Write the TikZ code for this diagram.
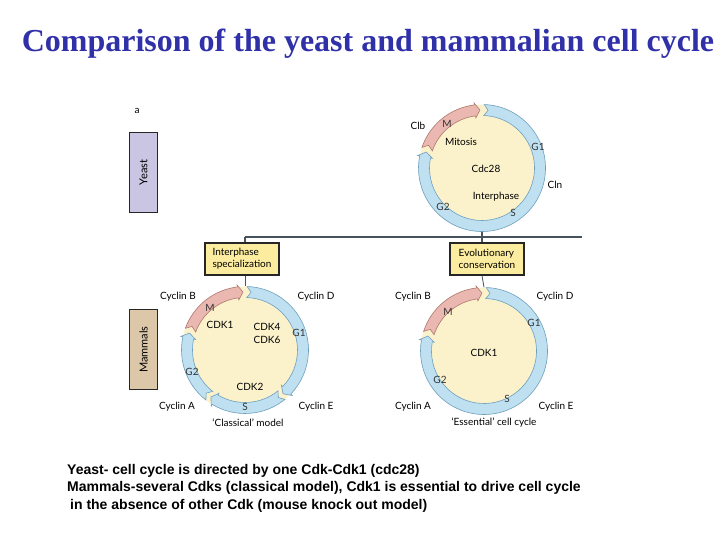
\documentclass[tikz,border=0pt]{standalone}
\usepackage{fontspec}
\setmainfont{Liberation Serif}
\newfontfamily\figfont{Lato}
\newfontfamily\notefont{Liberation Sans}
\usetikzlibrary{positioning}

\definecolor{titleblue}{RGB}{48,48,168}
\definecolor{ringblue}{RGB}{190,224,240}
\definecolor{ringblueedge}{RGB}{110,160,190}
\definecolor{ringpink}{RGB}{234,184,177}
\definecolor{ringpinkedge}{RGB}{176,120,112}
\definecolor{cellfill}{RGB}{251,242,204}
\definecolor{boxfill}{RGB}{251,236,160}
\definecolor{yeastfill}{RGB}{201,197,226}
\definecolor{mammalfill}{RGB}{220,199,169}
\definecolor{linkgray}{RGB}{70,82,92}

% ring radii (centre line, outer, inner, barbs)
\newcommand{\rc}{58}
\newcommand{\ro}{63.5}
\newcommand{\ri}{52.5}
\newcommand{\rob}{65.5}
\newcommand{\rib}{50.5}

% one phase of the cycle, clockwise, arrow tip at the end
\newcommand{\phasearc}[5]{%
  \pgfmathsetmacro{\tipa}{#3-5}%
  \pgfmathsetmacro{\notcha}{#2+4}%
  \filldraw[fill=#4, draw=#5, line width=0.6pt, shift={(#1)}]
    (#2:\ro) arc[start angle=#2, end angle=\tipa, radius=\ro]
    -- (\tipa:\rob) -- (#3:\rc) -- (\tipa:\rib) -- (\tipa:\ri)
    arc[start angle=\tipa, end angle=#2, radius=\ri]
    -- (\notcha:\rc) -- cycle;}

\tikzset{
  cell/.style={circle, fill=cellfill, minimum size=127pt, inner sep=0pt},
  lab/.style={font=\figfont\fontsize{10}{13}\selectfont, inner sep=0pt},
  phase/.style={font=\figfont\fontsize{10}{10}\selectfont, inner sep=0pt, text=black!80},
  infobox/.style={draw=black!85, line width=1.2pt, fill=boxfill, align=left,
    minimum width=74pt, minimum height=32pt, inner sep=2pt,
    font=\figfont\fontsize{10}{12}\selectfont},
  sidebox/.style={draw=black!85, line width=1.5pt, rotate=90,
    minimum width=80pt, minimum height=28pt, font=\figfont\fontsize{11}{11}\selectfont},
  link/.style={draw=linkgray, line width=1.4pt}
}

\begin{document}
\begin{tikzpicture}[x=1pt, y=-1pt]
    \useasboundingbox (0,0) rectangle (720,540);

    % title
    \node[anchor=base, text=titleblue, font=\bfseries\fontsize{32}{34}\selectfont]
        (title) at (368,52) {Comparison of the yeast and mammalian cell cycle};

    % side labels
    \node[lab] (a) at (137,111) {a};
    \node[sidebox, fill=yeastfill] (yeast)   at (143.5,172.5) {Yeast};
    \node[sidebox, fill=mammalfill] (mammals) at (143.5,349.5) {Mammals};

    % cells
    \node[cell] (ycell) at (482,168) {};
    \node[cell] (ccell) at (245,350) {};
    \node[cell] (ecell) at (484,351) {};

    % links
    \node[infobox] (spec) at (242,259) {Interphase\\specialization};
    \node[infobox] (cons) at (487,259) {Evolutionary\\conservation};
    \coordinate (hl) at (245,237);
    \coordinate (hr) at (582,237);
    \draw[link] (hl) -- (hr);
    \draw[link] (hl) -- (hl |- spec.north);
    \draw[link] (ycell.south) -- (ycell.south |- cons.north);
    \draw[link, line width=0.8pt] (spec.south -| hl) -- (ccell.north);
    \draw[link, line width=0.8pt] (cons.south -| ycell.south) -- (ecell.north);

    % yeast cycle
    \phasearc{ycell}{199}{268}{ringpink}{ringpinkedge}
    \phasearc{ycell}{272}{556}{ringblue}{ringblueedge}
    % classical model
    \phasearc{ccell}{200}{268}{ringpink}{ringpinkedge}
    \phasearc{ccell}{272}{409}{ringblue}{ringblueedge}
    \phasearc{ccell}{51}{126}{ringblue}{ringblueedge}
    \phasearc{ccell}{128}{197}{ringblue}{ringblueedge}
    % essential cell cycle
    \phasearc{ecell}{198}{268}{ringpink}{ringpinkedge}
    \phasearc{ecell}{272}{555}{ringblue}{ringblueedge}

    % yeast labels
    \node[lab]   (clb)    at (418,126) {Clb};
    \node[phase] (ym)     at (447,124) {M};
    \node[lab]   (mitos)  at (461,142) {Mitosis};
    \node[lab]   (cdc)    at (486,169) {Cdc28};
    \node[phase] (yg1)    at (538,147) {G1};
    \node[lab]   (cln)    at (555,185) {Cln};
    \node[lab]   (inter)  at (496,197) {Interphase};
    \node[phase] (ys)     at (513,213) {S};
    \node[phase] (yg2)    at (443,207) {G2};

    % classical labels
    \node[lab]   (cb1)    at (178,297) {Cyclin B};
    \node[lab]   (cd1)    at (316,297) {Cyclin D};
    \node[phase] (cm)     at (210,308) {M};
    \node[lab]   (ck1)    at (220,325) {CDK1};
    \node[lab, align=center] (ck46) at (267,333) {CDK4\\CDK6};
    \node[phase] (cg1)    at (299,333) {G1};
    \node[phase] (cg2)    at (192,372) {G2};
    \node[lab]   (ck2)    at (250,387) {CDK2};
    \node[lab]   (ca1)    at (177,407) {Cyclin A};
    \node[phase] (cs)     at (245,407) {S};
    \node[lab]   (ce1)    at (316,407) {Cyclin E};
    \node[lab]   (cmod)   at (248,423) {‘Classical’ model};

    % essential labels
    \node[lab]   (cb2)    at (413,297) {Cyclin B};
    \node[lab]   (cd2)    at (555,297) {Cyclin D};
    \node[phase] (em)     at (448,312) {M};
    \node[phase] (eg1)    at (534,323) {G1};
    \node[lab]   (ek1)    at (484,353) {CDK1};
    \node[phase] (eg2)    at (440,380) {G2};
    \node[phase] (es)     at (507,399) {S};
    \node[lab]   (ca2)    at (413,407) {Cyclin A};
    \node[lab]   (ce2)    at (556,407) {Cyclin E};
    \node[lab]   (emod)   at (494,423) {‘Essential’ cell cycle};

    % note
    \node[anchor=north west, align=left, inner sep=0pt,
          font=\notefont\bfseries\fontsize{14}{17.5}\selectfont] (note) at (67,464)
        {Yeast- cell cycle is directed by one Cdk-Cdk1 (cdc28)\\
         Mammals-several Cdks (classical model), Cdk1 is essential to drive cell cycle\\
         \hspace{3pt}in the absence of other Cdk (mouse knock out model)};
\end{tikzpicture}
\end{document}
